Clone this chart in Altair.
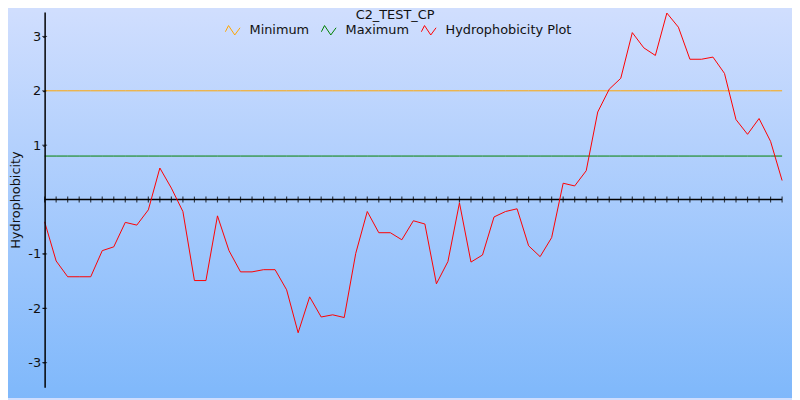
import altair as alt
import pandas as pd

# ---- data ----
title_text = "C2_TEST_CP"
y_title = "Hydrophobicity"
series_names = ["Minimum", "Maximum", "Hydrophobicity Plot"]
series_colors = ["#FFA500", "#008000", "#FF0000"]

hydro = [-0.41, -1.13, -1.42, -1.42, -1.42, -0.94, -0.87, -0.42, -0.47, -0.19,
         0.58, 0.21, -0.22, -1.49, -1.49, -0.30, -0.94, -1.33, -1.33, -1.29,
         -1.29, -1.66, -2.45, -1.79, -2.16, -2.12, -2.17, -0.99, -0.22, -0.61,
         -0.61, -0.74, -0.39, -0.45, -1.55, -1.14, -0.06, -1.15, -1.02, -0.32,
         -0.22, -0.17, -0.85, -1.05, -0.70, 0.30, 0.25, 0.53, 1.61, 2.03,
         2.23, 3.07, 2.79, 2.65, 3.43, 3.17, 2.58, 2.58, 2.62, 2.32,
         1.47, 1.20, 1.49, 1.07, 0.35]
min_level = 2.0
max_level = 0.8
y_ticks = [-3, -2, -1, 1, 2, 3]
y_domain = [-3.45, 3.45]

# ---- tables ----
idx = list(range(len(hydro)))
rows = []
for i in idx:
    rows.append({"idx": i, "value": min_level, "series": "Minimum"})
for i in idx:
    rows.append({"idx": i, "value": max_level, "series": "Maximum"})
for i, v in zip(idx, hydro):
    rows.append({"idx": i, "value": v, "series": "Hydrophobicity Plot"})
df = pd.DataFrame(rows)
df_idx = pd.DataFrame({"idx": idx})
df_yt = pd.DataFrame({"value": y_ticks})

W, H = 745, 379
PAD = {"left": 37, "top": 2, "right": 10, "bottom": 11}
FONT = "DejaVu Sans"

x_enc = alt.X("idx:Q", scale=alt.Scale(domain=[0, len(hydro) - 1], nice=False, zero=False), axis=None)
y_axis = alt.Axis(values=y_ticks, title=y_title, titleFont=FONT, titleFontSize=13,
                  titleFontWeight="normal", titleColor="#111111", labelFont=FONT,
                  labelFontSize=13, labelColor="#111111", labelExpr="'' + datum.value",
                  domainColor="black", domainWidth=1.5, tickColor="black", tickSize=2,
                  labelPadding=2, titlePadding=5, grid=False, zindex=2)
y_enc = alt.Y("value:Q", scale=alt.Scale(domain=y_domain, nice=False, zero=False), axis=y_axis)

grad = alt.Gradient(gradient="linear",
                    stops=[alt.GradientStop(color="#d0defe", offset=0),
                           alt.GradientStop(color="#7fb8fb", offset=1)],
                    x1=0, x2=0, y1=0, y2=1)

bg = alt.Chart(pd.DataFrame({"k": [0]})).mark_rect(fill=grad).encode(
    x=alt.value(-PAD["left"]), x2=alt.value(W + PAD["right"]),
    y=alt.value(-PAD["top"]), y2=alt.value(H + PAD["bottom"]))

zero_rule = alt.Chart(pd.DataFrame({"k": [0]})).mark_rule(color="black", strokeWidth=1.5).encode(
    y=alt.datum(0), x=alt.value(0), x2=alt.value(W))

x_ticks = alt.Chart(df_idx).mark_tick(orient="vertical", color="black", size=6, thickness=1.2).encode(
    x=x_enc, y=alt.datum(0))

y_tick_marks = alt.Chart(df_yt).mark_tick(orient="horizontal", color="black", size=5, thickness=1).encode(
    y=y_enc, x=alt.value(0))

lines = alt.Chart(df).mark_line(strokeWidth=1).encode(
    x=x_enc, y=y_enc,
    color=alt.Color("series:N",
                    scale=alt.Scale(domain=series_names, range=series_colors),
                    sort=series_names,
                    legend=alt.Legend(title=None, orient="none", legendX=182, legendY=10.5,
                                      direction="horizontal",
                                      symbolType="M-1,0.2L-0.57,-0.64L0.28,0.64L1,-0.34",
                                      symbolSize=220, symbolStrokeWidth=1,
                                      symbolFillColor="transparent",
                                      labelFont=FONT, labelFontSize=13, labelColor="#111111",
                                      labelOffset=9, columnPadding=9, padding=0)))

title_mark = alt.Chart(pd.DataFrame({"t": [title_text]})).mark_text(
    font=FONT, fontSize=13, color="#111111", align="center", baseline="alphabetic").encode(
    text="t:N", x=alt.value(354), y=alt.value(7))

chart = alt.layer(bg, zero_rule, x_ticks, y_tick_marks, lines, title_mark).properties(
    width=W, height=H, padding=PAD, autosize=alt.AutoSizeParams(type="none"),
    background="#d0defe"
).configure_view(strokeWidth=0).configure(font=FONT)

chart.save("out.html", embed_options={"renderer": "svg", "actions": False})
